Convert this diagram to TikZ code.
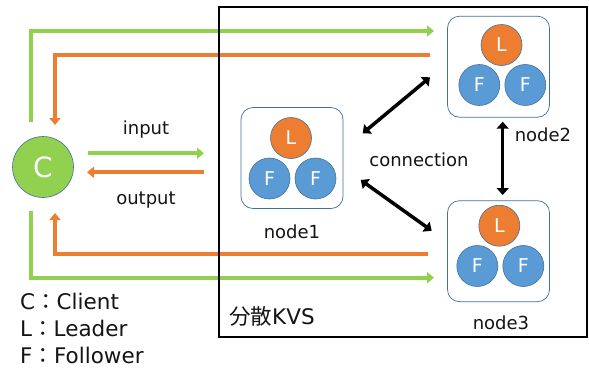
\documentclass[tikz,border=0pt]{standalone}
\usepackage{fontspec}
\setmainfont{DejaVu Sans}
\newfontfamily\cjk{Noto Sans CJK JP}
\usetikzlibrary{arrows.meta,calc}
\definecolor{cgreen}{RGB}{146,208,80}
\definecolor{corange}{RGB}{237,125,49}
\definecolor{cblue}{RGB}{91,155,213}
\definecolor{cedge}{RGB}{65,113,156}
\definecolor{ctext}{RGB}{20,20,20}
\begin{document}
\begin{tikzpicture}[x=1pt,y=-1pt,
  ball/.style={circle, minimum size=41pt, inner sep=0pt, draw=cedge, line width=0.6pt, text=white, font=\fontsize{19}{19}\selectfont},
  lball/.style={ball, fill=corange},
  fball/.style={ball, fill=cblue},
  group/.style={draw=cedge, line width=0.7pt, rounded corners=12pt, fill=white, minimum width=102pt, minimum height=101pt, inner sep=0pt},
  lbl/.style={font=\fontsize{18}{18}\selectfont, inner sep=0pt, text=ctext},
  legend/.style={font=\fontsize{21.5}{21.5}\selectfont, inner sep=0pt, anchor=west, text=ctext},
  gline/.style={draw=cgreen, line width=3.8pt},
  oline/.style={draw=corange, line width=3.8pt},
  ctip/.style={-{Triangle[length=7pt,width=11pt]}},
  conn/.style={draw=black, line width=3.5pt, {Triangle[length=7pt,width=12pt]}-{Triangle[length=7pt,width=12pt]}}
]
\useasboundingbox (0,0) rectangle (589,367);
\fill[white] (0,0) rectangle (589,367);

% client
\node[circle, fill=cgreen, draw=cedge, line width=0.6pt, minimum size=61pt, inner sep=0pt, text=white, font=\fontsize{28}{28}\selectfont] (C) at (43,167) {C};

% groups
\node[group] (n1) at (292,158) {};
\node[lball] (n1l) at (291,138) {L};
\node[fball] (n1f1) at (269.5,178.5) {F};
\node[fball] (n1f2) at (315.5,178.5) {F};

\node[group] (n2) at (498.5,66.7) {};
\node[lball] (n2l) at (501.5,45) {L};
\node[fball] (n2f1) at (479.3,85) {F};
\node[fball] (n2f2) at (525.3,85) {F};

\node[group] (n3) at (498.5,251.2) {};
\node[lball] (n3l) at (499.3,225.7) {L};
\node[fball] (n3f1) at (477.3,266) {F};
\node[fball] (n3f2) at (523.3,266) {F};

% labels
\node[lbl] (t1) at (292,232) {node1};
\node[lbl] (t2) at (543,135) {node2};
\node[lbl] (t3) at (501,323) {node3};
\node[lbl] (tc) at (419,160) {connection};
\node[lbl] (tin) at (146,130) {input};
\node[lbl] (tout) at (146,200) {output};

% legend
\node[legend] (lg1) at (20,301.7) {C{\cjk ：}Client};
\node[legend] (lg2) at (20,328.3) {L{\cjk ：}Leader};
\node[legend] (lg3) at (20,355) {F{\cjk ：}Follower};

% coordinates
\coordinate (gs1) at (30.7,122);
\coordinate (ge1) at (434,31);
\coordinate (os1) at (430,55.3);
\coordinate (oe1) at (55,125);
\coordinate (os2) at (428,254);
\coordinate (oe2) at (55,213);
\coordinate (gs2) at (30.7,211);
\coordinate (ge2) at (434,277.7);
\coordinate (is) at (88,153.3);
\coordinate (ie) at (204,153.3);
\coordinate (os) at (204,172.3);
\coordinate (oe) at (87,172.3);
\coordinate (a1) at (362.7,133.3);
\coordinate (a2) at (430,77.3);
\coordinate (b1) at (360.7,180);
\coordinate (b2) at (431.7,230.7);
\coordinate (c1) at (502.7,121.7);
\coordinate (c2) at (502.7,195);

% client flows
\draw[gline, ctip] (gs1) |- (ge1);
\draw[oline, ctip] (os1) -| (oe1);
\draw[oline, ctip] (os2) -| (oe2);
\draw[gline, ctip] (gs2) |- (ge2);
\draw[gline, ctip] (is) -- (ie);
\draw[oline, ctip] (os) -- (oe);

% connections
\draw[conn] (a1) -- (a2);
\draw[conn] (b1) -- (b2);
\draw[conn] (c1) -- (c2);

% KVS box
\node[draw=black, line width=2.5pt, minimum width=368pt, minimum height=330pt, inner sep=0pt] (kvs) at (403,172) {};
\node[legend] (kvst) at (229,316) {{\cjk 分散}KVS};
\end{tikzpicture}
\end{document}
